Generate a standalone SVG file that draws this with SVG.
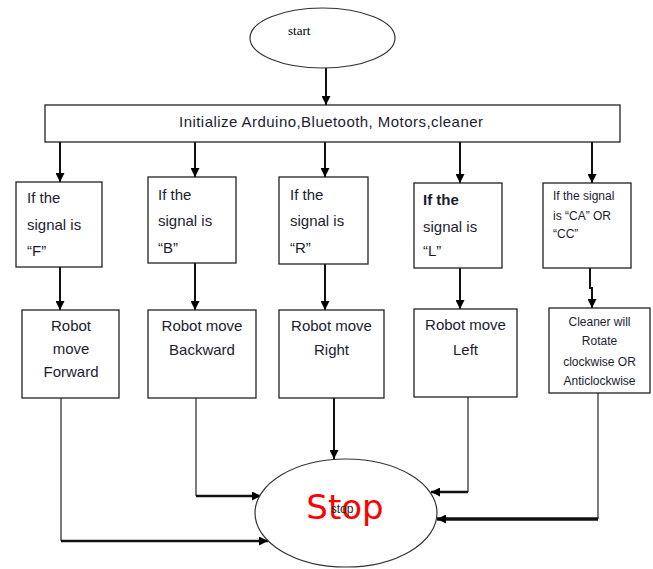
<svg xmlns="http://www.w3.org/2000/svg" width="653" height="569" viewBox="0 0 653 569">
<style>
.box{fill:#fff;stroke:#222;stroke-width:1.3}
.ell{fill:#fff;stroke:#333;stroke-width:1.2}
.t{font-family:"Liberation Sans",Arial,sans-serif;font-size:15px;fill:#1c1c30}
.s{font-family:"Liberation Sans",Arial,sans-serif;font-size:12px;fill:#1c1c30}
.c{text-anchor:middle}
.ln{fill:none;stroke:#111;stroke-width:2}
.lt{fill:none;stroke:#444;stroke-width:1.4}
.lh{fill:none;stroke:#111;stroke-width:2.5}
</style>
<defs>
<marker id="ah" viewBox="0 0 10 10" refX="10" refY="5" markerWidth="9" markerHeight="9" markerUnits="userSpaceOnUse" orient="auto">
<path d="M0,0 L10,5 L0,10 z" fill="#000"/>
</marker>
</defs>
<g id="connectors">
<path class="ln" d="M326,68 V105" marker-end="url(#ah)"/>
<path class="ln" d="M60,142 V182" marker-end="url(#ah)"/>
<path class="ln" d="M195,142 V177" marker-end="url(#ah)"/>
<path class="ln" d="M325,142 V177" marker-end="url(#ah)"/>
<path class="ln" d="M460,142 V183" marker-end="url(#ah)"/>
<path class="ln" d="M592,142 V183" marker-end="url(#ah)"/>
<path class="ln" d="M60,267 V310" marker-end="url(#ah)"/>
<path class="ln" d="M195,263 V310" marker-end="url(#ah)"/>
<path class="ln" d="M325,264 V310" marker-end="url(#ah)"/>
<path class="ln" d="M460,268 V309" marker-end="url(#ah)"/>
<path class="ln" d="M590,268 V288 H592 V308" marker-end="url(#ah)"/>
<path class="lt" d="M61,398 V541"/>
<path class="lh" d="M61,541 H268" marker-end="url(#ah)"/>
<path class="lt" d="M196,398 V496"/>
<path class="lh" d="M196,496 H261" marker-end="url(#ah)"/>
<path class="ln" d="M334,398 V459" marker-end="url(#ah)"/>
<path class="lt" d="M468,397 V492"/>
<path class="lh" d="M468,492 H431" marker-end="url(#ah)"/>
<path class="lt" d="M598,393 V519"/>
<path class="lh" style="stroke-width:3.5" d="M598,519 H437" marker-end="url(#ah)"/>
</g>
<g id="start">
<ellipse class="ell" cx="322.5" cy="38" rx="72.5" ry="30"/>
<text x="288" y="35" style="font-family:'Liberation Serif','Times New Roman',serif;font-size:13px;fill:#000">start</text>
</g>
<g id="init">
<rect class="box" x="45" y="105" width="575" height="37"/>
<text class="t" x="179" y="127" textLength="304" lengthAdjust="spacing">Initialize  Arduino,Bluetooth, Motors,cleaner</text>
</g>
<g id="cond-f">
<rect class="box" x="16" y="182" width="86" height="85"/>
<text class="t" x="27" y="203">If the</text>
<text class="t" x="27" y="230">signal is</text>
<text class="t" x="27" y="256">“F”</text>
</g>
<g id="cond-b">
<rect class="box" x="148" y="177" width="88" height="86"/>
<text class="t" x="158" y="200">If the</text>
<text class="t" x="158" y="226">signal is</text>
<text class="t" x="158" y="253">“B”</text>
</g>
<g id="cond-r">
<rect class="box" x="279" y="177" width="89" height="87"/>
<text class="t" x="290" y="200">If the</text>
<text class="t" x="290" y="226">signal is</text>
<text class="t" x="290" y="253">“R”</text>
</g>
<g id="cond-l">
<rect class="box" x="414" y="183" width="88" height="85"/>
<text class="t" x="423" y="205" style="font-weight:bold">If the</text>
<text class="t" x="423" y="232">signal is</text>
<text class="t" x="423" y="256">“L”</text>
</g>
<g id="cond-c">
<rect class="box" x="543" y="183" width="88" height="85"/>
<text class="s" x="553" y="200">If the signal</text>
<text class="s" x="553" y="220">is  “CA” OR</text>
<text class="s" x="553" y="238">“CC”</text>
</g>
<g id="act-f">
<rect class="box" x="22" y="310" width="97" height="88"/>
<text class="t c" x="71" y="331">Robot</text>
<text class="t c" x="71" y="354">move</text>
<text class="t c" x="71" y="377">Forward</text>
</g>
<g id="act-b">
<rect class="box" x="148" y="310" width="108" height="88"/>
<text class="t c" x="202" y="331">Robot move</text>
<text class="t c" x="202" y="355">Backward</text>
</g>
<g id="act-r">
<rect class="box" x="279" y="310" width="105" height="88"/>
<text class="t c" x="331.5" y="331">Robot move</text>
<text class="t c" x="331.5" y="355">Right</text>
</g>
<g id="act-l">
<rect class="box" x="414" y="309" width="103" height="88"/>
<text class="t c" x="465.5" y="330">Robot move</text>
<text class="t c" x="465.5" y="355">Left</text>
</g>
<g id="act-c">
<rect class="box" x="549" y="308" width="101" height="85"/>
<text class="s c" x="599.5" y="326">Cleaner will</text>
<text class="s c" x="599.5" y="345">Rotate</text>
<text class="s c" x="599.5" y="366">clockwise  OR</text>
<text class="s c" x="599.5" y="385">Anticlockwise</text>
</g>
<g id="stop">
<ellipse class="ell" cx="346" cy="513" rx="91" ry="54"/>
<text x="345" y="519" style="font-family:'DejaVu Sans',sans-serif;font-size:34px;fill:#ff0000;text-anchor:middle">Stop</text>
<text x="342" y="513" style="font-family:'Liberation Sans',Arial,sans-serif;font-size:12px;fill:#222;text-anchor:middle">stop</text>
</g>
</svg>
